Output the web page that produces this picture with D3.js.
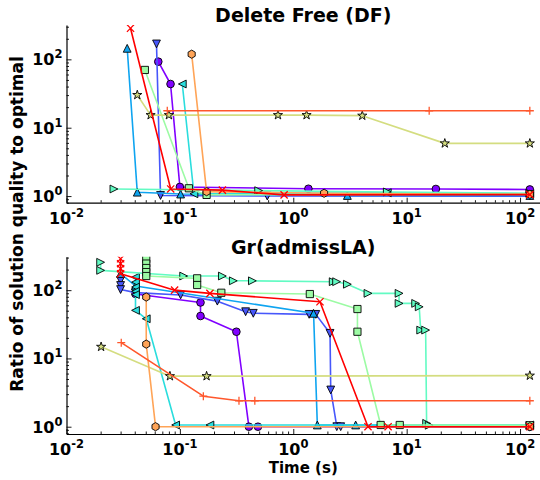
<!DOCTYPE html>
<html><head><meta charset="utf-8">
<script src="https://cdn.jsdelivr.net/npm/d3@7/dist/d3.min.js"></script>
<style>
html,body{margin:0;padding:0;background:#fff;}
svg{display:block;font-family:"DejaVu Sans",sans-serif;}
</style></head>
<body>
<svg id="chart" width="540" height="480"></svg>
<script>
// ---- Data: [time (s), ratio to optimal] ----
// Panel 1: Delete Free (DF)
const dfCircle   = [[0.0645,92.5],[0.0827,43.6],[0.1,1.36],[1.36,1.28],[18.1,1.27],[122,1.25]];
const dfTriDown  = [[0.0622,168],[0.0675,1.02],[0.59,1.0],[122,1.0]];
const dfTriUp    = [[0.0343,145],[0.0421,1.14],[0.1015,1.07],[3.0,1.02],[122,1.02]];
const dfTriLeft  = [[0.105,43.6],[0.133,1.08],[6.75,1.12],[122,1.08]];
const dfTriRight = [[0.0262,1.27],[0.495,1.2],[6.75,1.15],[122,1.1]];
const dfSquare   = [[0.0491,70],[0.12,1.3],[0.172,1.04],[122,1.07]];
const dfStar     = [[0.0421,30.1],[0.0552,15.3],[0.08,15.3],[0.733,15.3],[1.31,15.3],[4.06,15.0],[21.7,5.9],[122,5.9]];
const dfHex      = [[0.127,119],[0.172,1.16],[1.87,1.1],[122,1.06]];
const dfPlus     = [[0.0774,17.7],[15.8,17.7],[122,17.7]];
const dfX        = [[0.0367,285],[0.083,1.27],[0.237,1.22],[0.83,1.04],[122,1.05]];

// Panel 2: Gr(admissLA)
const grCircle   = [[0.0406,88],[0.152,66],[0.152,41.8],[0.315,24.6],[0.406,1.0],[0.488,1.0],[122,1.0]];
const grTriDown  = [[0.03,139],[0.03,117],[0.03,102],[0.0406,92],[0.1015,85],[0.214,69],[0.38,48.3],[0.444,45.8],[1.38,44.2],[1.58,44.2],[2.11,23.3],[2.14,3.45],[2.42,1.0],[2.62,1.0],[122,1.0]];
const grTriUp    = [[0.03,175],[0.0406,115],[1.51,45.8],[1.63,1.06],[3.55,1.06],[122,1.04]];
const grTriLeft  = [[0.0406,155],[0.0406,131],[0.0406,111],[0.0406,96],[0.0406,86],[0.0406,50.6],[0.0505,38.1],[0.0917,1.06],[0.184,1.06],[122,1.06]];
const grTriRight = [[0.02,256],[0.02,195],[0.108,161],[0.237,161],[0.296,137],[0.436,137],[2.25,133],[2.41,133],[3.0,122],[4.56,89.8],[8.57,89.8],[8.57,64],[12.0,64],[12.9,57],[13.3,26],[14.7,26],[15.0,1.12],[15.8,1.05],[122,1.05]];
const grSquare   = [[0.0505,285],[0.0505,245],[0.0505,211],[0.0505,184],[0.0505,161],[0.142,149],[0.142,119],[0.232,91.6],[1.40,87.7],[3.68,52.9],[3.68,24.6],[5.9,1.06],[8.69,1.06],[122,1.05]];
const grStar     = [[0.0202,14.8],[0.0817,5.5],[0.172,5.5],[122,5.6]];
const grHex      = [[0.0505,79.3],[0.0505,16.2],[0.061,1.0],[122,1.0]];
const grPlus     = [[0.0304,17],[0.161,2.8],[0.332,2.4],[0.458,2.4],[122,2.4]];
const grX        = [[0.03,288],[0.03,244],[0.03,206],[0.03,174],[0.0898,100],[0.184,89.8],[1.72,67.6],[4.56,1.0],[6.86,1.0],[122,1.0]];

const markers = ["circle","triDown","triUp","triLeft","triRight","square","star","hex","plus","x"];
const colors  = ["#8000ff","#4757fb","#0ea4f0","#2adddd","#62fbc3","#9cfba4","#d4dd80","#ffa457","#ff572c","#ff0000"];
const panelTitles = ["Delete Free (DF)","Gr(admissLA)"];
const xTickValues = [0.01,0.1,1,10,100];
const xTickExps = ["-2","-1","0","1","2"];
const yTickValues = [1,10,100];
const yTickExps = ["0","1","2"];
const yLabel = "Ratio of solution quality to optimal";
const xLabel = "Time (s)";

const panels = [
  {title: panelTitles[0], series:[dfCircle,dfTriDown,dfTriUp,dfTriLeft,dfTriRight,dfSquare,dfStar,dfHex,dfPlus,dfX], top:25, bottom:202.7, ydom:[0.8,318]},
  {title: panelTitles[1], series:[grCircle,grTriDown,grTriUp,grTriLeft,grTriRight,grSquare,grStar,grHex,grPlus,grX], top:256.7, bottom:434, ydom:[0.782,309]}
];

const svg = d3.select("#chart");
const left = 66.5, right = 541;
const x = d3.scaleLog().domain([0.01, Math.pow(10,2.1848)]).range([left, right]);

function markerPath(type){
  const s = 3.9;
  switch(type){
    case "circle": return d3.symbol(d3.symbolCircle, 46)();
    case "triUp": return `M0,${-s}L${s},${s}L${-s},${s}Z`;
    case "triDown": return `M0,${s}L${s},${-s}L${-s},${-s}Z`;
    case "triLeft": return `M${-s},0L${s},${-s}L${s},${s}Z`;
    case "triRight": return `M${s},0L${-s},${-s}L${-s},${s}Z`;
    case "square": { const h=3.6; return `M${-h},${-h}H${h}V${h}H${-h}Z`; }
    case "star": return d3.symbol(d3.symbolStar, 26)();
    case "hex": { const r=4.1; let p=""; for(let i=0;i<6;i++){const a=Math.PI/3*i - Math.PI/2; p+=(i?"L":"M")+(r*Math.cos(a)).toFixed(2)+","+(r*Math.sin(a)).toFixed(2);} return p+"Z"; }
    case "plus": return "M-4,0H4M0,-4V4";
    case "x": return "M-3.6,-3.6L3.6,3.6M-3.6,3.6L3.6,-3.6";
  }
}

panels.forEach((p, pi) => {
  const y = d3.scaleLog().domain(p.ydom).range([p.bottom, p.top]);
  const g = svg.append("g");
  const clipId = "clip"+pi;
  svg.append("clipPath").attr("id", clipId).append("rect")
    .attr("x", left).attr("y", p.top).attr("width", 540-left).attr("height", p.bottom-p.top);

  const plot = g.append("g").attr("clip-path", `url(#${clipId})`);
  const line = d3.line().x(d=>x(d[0])).y(d=>y(d[1]));
  p.series.forEach((data, si) => {
    const col = colors[si];
    plot.append("path").datum(data).attr("d", line)
      .attr("fill","none").attr("stroke", col).attr("stroke-width",1.6).attr("stroke-linejoin","round");
    const mk = markers[si];
    const isLine = (mk==="plus"||mk==="x");
    plot.selectAll(null).data(data).enter().append("path")
      .attr("transform", d=>`translate(${x(d[0])},${y(d[1])})`)
      .attr("d", markerPath(mk))
      .attr("fill", isLine ? "none" : col)
      .attr("stroke", isLine ? col : "#000")
      .attr("stroke-width", isLine ? 1.3 : 0.9);
  });

  // axes: left and bottom spines with inward ticks
  const xAxis = d3.axisBottom(x).tickValues(xTickValues).tickSizeInner(-5).tickSizeOuter(0).tickFormat("");
  const xMinor = [];
  for (let e=-2; e<=2; e++) for (let k=2;k<=9;k++){ const v=k*Math.pow(10,e); if (v<=x.domain()[1]) xMinor.push(v); }
  const xg = g.append("g").attr("transform",`translate(0,${p.bottom})`).call(xAxis);
  xg.append("g").call(d3.axisBottom(x).tickValues(xMinor).tickSizeInner(-2.5).tickSizeOuter(0).tickFormat(""))
    .select(".domain").remove();
  const yAxis = d3.axisLeft(y).tickValues(yTickValues).tickSizeInner(-5).tickSizeOuter(0).tickFormat("");
  const yMinor = [];
  for (let e=-1; e<=2; e++) for (let k=2;k<=9;k++){ const v=k*Math.pow(10,e); if (v>=p.ydom[0] && v<=p.ydom[1]) yMinor.push(v); }
  const yg = g.append("g").attr("transform",`translate(${left},0)`).call(yAxis);
  yg.append("g").call(d3.axisLeft(y).tickValues(yMinor).tickSizeInner(-2.5).tickSizeOuter(0).tickFormat(""))
    .select(".domain").remove();
  g.selectAll(".domain").attr("stroke","#000").attr("stroke-width",1.2);
  g.selectAll(".tick line").attr("stroke","#000").attr("stroke-width",0.9);
  // tick labels
  xTickValues.forEach((v,i)=>{
    const t = g.append("text").attr("x", x(v)).attr("y", p.bottom+21)
      .attr("text-anchor","middle").attr("font-weight","bold").attr("font-size",16);
    t.append("tspan").text("10");
    t.append("tspan").attr("dy",-7).attr("font-size",11.5).text(xTickExps[i]);
  });
  yTickValues.forEach((v,i)=>{
    const t = g.append("text").attr("x", left-4).attr("y", y(v)+6)
      .attr("text-anchor","end").attr("font-weight","bold").attr("font-size",16);
    t.append("tspan").text("10");
    t.append("tspan").attr("dy",-7).attr("font-size",11.5).text(yTickExps[i]);
  });
  svg.append("text").attr("x", (left+540)/2).attr("y", p.top-3)
    .attr("text-anchor","middle").attr("font-weight","bold").attr("font-size",19).text(p.title);
});

svg.append("text").attr("transform","translate(23,224) rotate(-90)")
  .attr("text-anchor","middle").attr("font-weight","bold").attr("font-size",17).text(yLabel);
svg.append("text").attr("x",(left+540)/2).attr("y",473)
  .attr("text-anchor","middle").attr("font-weight","bold").attr("font-size",15).text(xLabel);
</script>
</body></html>
